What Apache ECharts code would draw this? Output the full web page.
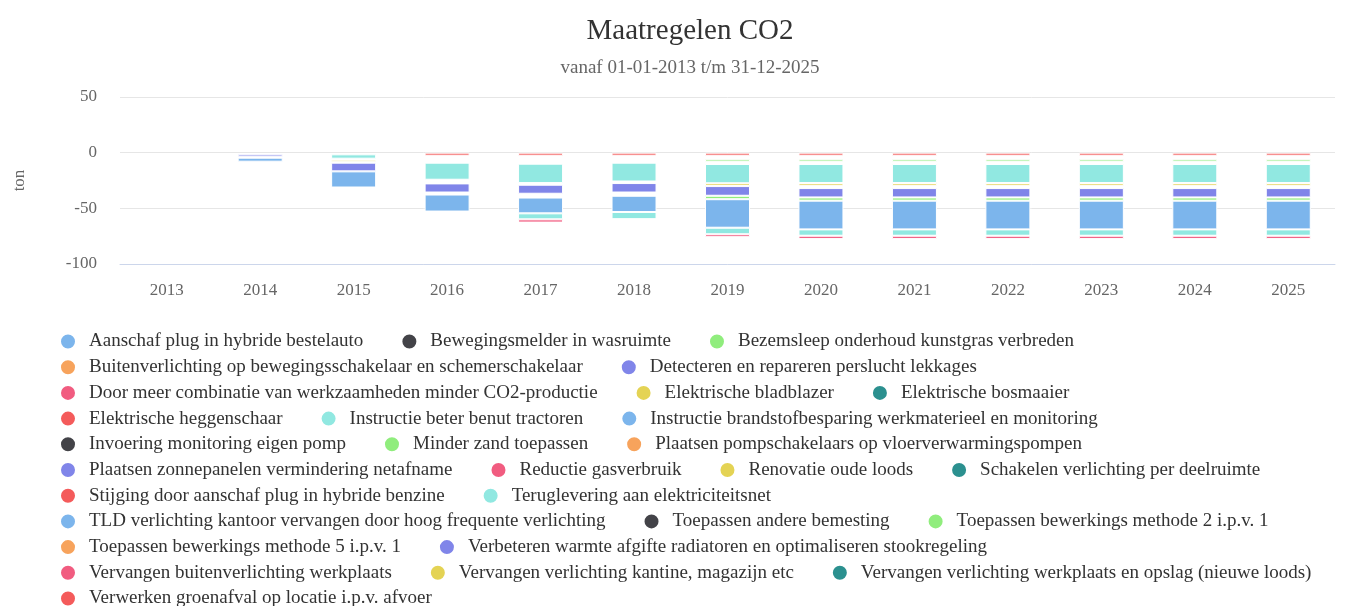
<!DOCTYPE html>
<html>
<head>
<meta charset="utf-8">
<script src="https://cdn.jsdelivr.net/npm/echarts@6/dist/echarts.min.js"></script>
<style>
    html, body {margin: 0; padding: 0; background: #fff;}
    #chart {width: 1345px; height: 606px;}
</style>
</head>
<body>
<div id="chart"></div>
<script>
// categories + tick labels
var years = ['2013', '2014', '2015', '2016', '2017', '2018', '2019', '2020', '2021', '2022', '2023', '2024', '2025'];
var yTicks = [-100, -50, 0, 50];

var palette = ['#7cb5ec', '#434348', '#90ed7d', '#f7a35c', '#8085e9', '#f15c80', '#e4d354', '#2b908f', '#f45b5b', '#91e8e1'];

var seriesNames = [
    'Aanschaf plug in hybride bestelauto',
    'Bewegingsmelder in wasruimte',
    'Bezemsleep onderhoud kunstgras verbreden',
    'Buitenverlichting op bewegingsschakelaar en schemerschakelaar',
    'Detecteren en repareren perslucht lekkages',
    'Door meer combinatie van werkzaamheden minder CO2-productie',
    'Elektrische bladblazer',
    'Elektrische bosmaaier',
    'Elektrische heggenschaar',
    'Instructie beter benut tractoren',
    'Instructie brandstofbesparing werkmaterieel en monitoring',
    'Invoering monitoring eigen pomp',
    'Minder zand toepassen',
    'Plaatsen pompschakelaars op vloerverwarmingspompen',
    'Plaatsen zonnepanelen vermindering netafname',
    'Reductie gasverbruik',
    'Renovatie oude loods',
    'Schakelen verlichting per deelruimte',
    'Stijging door aanschaf plug in hybride benzine',
    'Teruglevering aan elektriciteitsnet',
    'TLD verlichting kantoor vervangen door hoog frequente verlichting',
    'Toepassen andere bemesting',
    'Toepassen bewerkings methode 2 i.p.v. 1',
    'Toepassen bewerkings methode 5 i.p.v. 1',
    'Verbeteren warmte afgifte radiatoren en optimaliseren stookregeling',
    'Vervangen buitenverlichting werkplaats',
    'Vervangen verlichting kantine, magazijn etc',
    'Vervangen verlichting werkplaats en opslag (nieuwe loods)',
    'Verwerken groenafval op locatie i.p.v. afvoer'
];
// how many legend items go on each line
var legendRows = [3, 2, 3, 3, 3, 4, 2, 3, 2, 3, 1];

// values in ton per year (2013..2025)
var groenafval   = [null, null, null, -2.7, -2.7, -2.7, -2.7, -2.7, -2.7, -2.7, -2.7, -2.7, -2.7];
var methode2     = [null, null, null, null, null, null, -2.2, -2.2, -2.2, -2.2, -2.2, -2.2, -2.2];
var teruglevering = [null, null, -3.9, -15.3, -17.4, -16.9, -17.3, -17.1, -17.1, -17.1, -17.1, -17.1, -17.1];
var renovatie    = [null, null, -1.8, null, null, null, -2.5, -2.4, -2.4, -2.4, -2.4, -2.4, -2.4];
var zonnepanelen = [null, -2.1, -7.8, -8.2, -8.1, -8.5, -8.7, -8.4, -8.4, -8.4, -8.4, -8.4, -8.4];
var minderZand   = [null, null, null, null, null, null, -3.1, -2.9, -2.9, -2.9, -2.9, -2.9, -2.9];
var brandstof    = [null, -3.6, -14.5, -15.3, -14.2, -14.6, -25.6, -25.8, -25.8, -25.8, -25.8, -25.8, -25.8];
var tractoren    = [null, null, null, null, -5.4, -6.4, -5.9, -5.7, -5.7, -5.7, -5.7, -5.7, -5.7];
var combinatie   = [null, null, null, null, -2.9, null, -2.6, -2.9, -2.9, -2.9, -2.9, -2.9, -2.9];

// empty space inside the stacks (white gaps in the picture)
var gapTop = [null, -1.5, -1.5, null, null, null, null, null, null, null, null, null, null];
var gapA   = [null, null, null, -6.3, -7.2, -6.3, -3.3, -3.3, -3.3, -3.3, -3.3, -3.3, -3.3];
var gapB   = [null, null, null, null, null, null, -2.0, -2.0, -2.0, -2.0, -2.0, -2.0, -2.0];
var gapC   = [null, null, -0.9, -3.3, -1.5, -1.4, null, null, null, null, null, null, null];
var gapD   = [null, null, -0.9, null, null, null, null, -2.1, -2.1, -2.1, -2.1, -2.1, -2.1];
var gapE   = [null, -0.9, null, -1.8, -3.4, -2.9, null, null, null, null, null, null, null];

var fontFamily = 'Liberation Serif';

function bar(idx, data) {
    return {
        name: seriesNames[idx],
        type: 'bar',
        stack: 'co2',
        barWidth: 45,
        data: data,
        itemStyle: {color: palette[idx % 10], borderColor: '#fff', borderWidth: 1}
    };
}

function gap(data) {
    return {
        name: 'gap',
        type: 'bar',
        stack: 'co2',
        barWidth: 45,
        silent: true,
        data: data,
        itemStyle: {color: 'rgba(0,0,0,0)', borderWidth: 0}
    };
}

// stack order: first one sits next to zero
var series = [
    gap(gapTop),
    bar(28, groenafval),
    gap(gapA),
    bar(22, methode2),
    gap(gapB),
    bar(19, teruglevering),
    gap(gapC),
    bar(16, renovatie),
    gap(gapD),
    bar(14, zonnepanelen),
    gap(gapE),
    bar(12, minderZand),
    bar(10, brandstof),
    bar(9, tractoren),
    bar(5, combinatie)
];
var used = [28, 22, 19, 16, 14, 12, 10, 9, 5];
for (var i = 0; i < seriesNames.length; i++) {
    if (used.indexOf(i) < 0) {
        series.push(bar(i, []));
    }
}

// one legend per line, so the lines break like the original
var legends = [];
var n = 0;
legendRows.forEach(function (cnt, r) {
    legends.push({
        data: seriesNames.slice(n, n + cnt),
        left: 59,
        top: 332 + r * 25.7,
        padding: 0,
        icon: 'circle',
        itemWidth: 32,
        itemHeight: 16,
        itemGap: 37,
        selectedMode: false,
        textStyle: {fontFamily: fontFamily, fontSize: 19, color: '#333'}
    });
    n += cnt;
});

var chart = echarts.init(document.getElementById('chart'));

var option = {
    animation: false,
    textStyle: {fontFamily: fontFamily},
    title: {
        text: 'Maatregelen CO2',
        subtext: 'vanaf 01-01-2013 t/m 31-12-2025',
        left: 685,
        textAlign: 'center',
        top: 12,
        itemGap: 13,
        textStyle: {fontFamily: fontFamily, fontSize: 29, fontWeight: 'normal', color: '#333'},
        subtextStyle: {fontFamily: fontFamily, fontSize: 19, color: '#666'}
    },
    grid: {
        left: 120,
        right: 10,
        top: 97,
        bottom: 342
    },
    legend: legends,
    xAxis: {
        type: 'category',
        data: years,
        axisLine: {onZero: false, lineStyle: {color: '#ccd6eb'}},
        axisTick: {length: 10, lineStyle: {color: '#ccd6eb'}},
        axisLabel: {margin: 18, fontSize: 17, color: '#666', fontFamily: fontFamily}
    },
    yAxis: {
        type: 'value',
        min: yTicks[0],
        max: yTicks[yTicks.length - 1],
        interval: 50,
        name: 'ton',
        nameLocation: 'middle',
        nameGap: 92,
        nameTextStyle: {fontSize: 17, color: '#666', fontFamily: fontFamily},
        axisLine: {show: false},
        axisTick: {show: false},
        axisLabel: {margin: 23, fontSize: 17, color: '#666', fontFamily: fontFamily},
        splitLine: {lineStyle: {color: '#e6e6e6'}}
    },
    series: series
};

chart.setOption(option);
</script>
</body>
</html>
